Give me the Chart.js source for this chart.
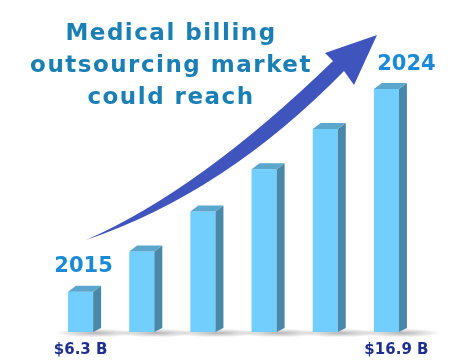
<!DOCTYPE html>
<html>
<head>
<meta charset="utf-8">
<script src="https://cdn.jsdelivr.net/npm/chart.js@4.4.1/dist/chart.umd.min.js"></script>
<style>
  html, body { margin: 0; padding: 0; background: #fff; }
  #wrap { width: 467px; height: 363px; position: relative; }
</style>
</head>
<body>
<div id="wrap"><canvas id="marketChart" width="467" height="363"></canvas></div>
<script>
// Chart data
const years = ["2015", "2016", "2018", "2020", "2022", "2024"];
const marketSize = [6.3, 8.4, 10.5, 12.7, 14.8, 16.9];
const yearLabels = ["2015", "", "", "", "", "2024"];
const valueLabels = ["$6.3 B", "", "", "", "", "$16.9 B"];
const titleLines = ["Medical billing", "outsourcing market", "could reach"];

const FRONT = "#72cffd";
const SIDE = "#4a88aa";
const TOP = "#5aa6cd";

// bars start at the axis minimum, not at zero, so clamp the base
function barBase(chart, bar) {
  return Math.min(bar.base, chart.chartArea.bottom);
}

// soft grey shadow at the foot of every bar
const shadowPlugin = {
  id: "barShadow",
  beforeDatasetsDraw: (chart) => {
    const { ctx } = chart;
    chart.getDatasetMeta(0).data.forEach((bar) => {
      const x1 = bar.x + bar.width / 2;
      const base = barBase(chart, bar);
      ctx.save();
      ctx.translate(x1 + 2, base + 1);
      ctx.scale(1, 0.11);
      const g = ctx.createRadialGradient(0, 0, 0, 0, 0, 40);
      g.addColorStop(0, "rgba(90, 90, 90, 0.45)");
      g.addColorStop(1, "rgba(90, 90, 90, 0)");
      ctx.fillStyle = g;
      ctx.beginPath();
      ctx.arc(0, 0, 40, 0, Math.PI * 2);
      ctx.fill();
      ctx.restore();
    });
  },
};

// side and top faces to give the bars depth
const depthPlugin = {
  id: "barDepth",
  afterDatasetsDraw: (chart) => {
    const { ctx } = chart;
    const d = 8;
    const rise = 6;
    chart.getDatasetMeta(0).data.forEach((bar) => {
      const x0 = bar.x - bar.width / 2;
      const x1 = bar.x + bar.width / 2;
      const top = bar.y;
      const base = barBase(chart, bar);
      ctx.save();
      ctx.fillStyle = SIDE;
      ctx.beginPath();
      ctx.moveTo(x1, top);
      ctx.lineTo(x1 + d, top - rise);
      ctx.lineTo(x1 + d, base - 4);
      ctx.lineTo(x1, base);
      ctx.closePath();
      ctx.fill();
      ctx.fillStyle = TOP;
      ctx.beginPath();
      ctx.moveTo(x0, top);
      ctx.lineTo(x0 + d, top - rise);
      ctx.lineTo(x1 + d, top - rise);
      ctx.lineTo(x1, top);
      ctx.closePath();
      ctx.fill();
      ctx.restore();
    });
  },
};

// growth arrow, title and end labels
const decorPlugin = {
  id: "decor",
  afterDraw: (chart) => {
    const { ctx } = chart;
    const bars = chart.getDatasetMeta(0).data;

    // arrow
    ctx.save();
    ctx.fillStyle = "#3f54bd";
    ctx.beginPath();
    ctx.moveTo(86, 240);
    ctx.quadraticCurveTo(200, 190, 333, 61);
    ctx.lineTo(325, 53);
    ctx.lineTo(377, 35);
    ctx.lineTo(354, 85);
    ctx.lineTo(344, 71);
    ctx.quadraticCurveTo(225, 193, 86, 240);
    ctx.closePath();
    ctx.fill();
    ctx.restore();

    // title
    ctx.save();
    ctx.fillStyle = "#1a7fb5";
    ctx.font = "bold 23px 'DejaVu Sans', Verdana, sans-serif";
    ctx.letterSpacing = "1.5px";
    ctx.textAlign = "center";
    ctx.textBaseline = "alphabetic";
    titleLines.forEach((line, i) => {
      ctx.fillText(line, 171, 40 + i * 32);
    });
    ctx.restore();

    // year labels above first / last bar
    ctx.save();
    ctx.textAlign = "center";
    ctx.textBaseline = "alphabetic";
    ctx.font = "bold 21px 'DejaVu Sans', Verdana, sans-serif";
    ctx.fillStyle = "#1a8ad8";
    const last = bars.length - 1;
    bars.forEach((bar, i) => {
      if (!yearLabels[i]) return;
      const dx = i === last ? 17 : 0;
      const dy = i === last ? 19 : 20;
      ctx.fillText(yearLabels[i], bar.x + 3 + dx, bar.y - dy);
    });

    // value labels under first / last bar
    ctx.font = "bold 15px 'DejaVu Sans', Verdana, sans-serif";
    ctx.fillStyle = "#1f2f8f";
    bars.forEach((bar, i) => {
      if (!valueLabels[i]) return;
      const dx = i === last ? 10 : 0;
      ctx.fillText(valueLabels[i], bar.x + dx, barBase(chart, bar) + 22);
    });
    ctx.restore();
  },
};

const ctx = document.getElementById("marketChart").getContext("2d");
new Chart(ctx, {
  type: "bar",
  data: {
    labels: years,
    datasets: [
      {
        label: "Market size ($B)",
        data: marketSize,
        backgroundColor: FRONT,
        borderWidth: 0,
        barPercentage: 0.41,
        categoryPercentage: 1,
      },
    ],
  },
  options: {
    responsive: false,
    animation: false,
    layout: {
      padding: { left: 50, right: 50, top: 20, bottom: 31 },
    },
    scales: {
      x: { display: false, grid: { display: false } },
      y: { display: false, min: 4.2, max: 20.5, grid: { display: false } },
    },
    plugins: {
      legend: { display: false },
      tooltip: { enabled: false },
    },
  },
  plugins: [shadowPlugin, depthPlugin, decorPlugin],
});
</script>
</body>
</html>
